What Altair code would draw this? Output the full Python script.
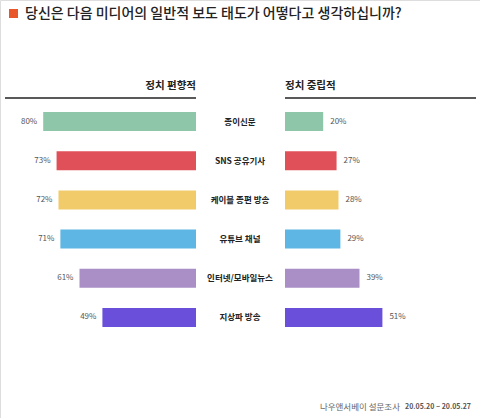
import altair as alt
import pandas as pd

# Survey: perceived reporting attitude of each media type
media = ["종이신문", "SNS 공유기사", "케이블 종편 방송", "유튜브 채널", "인터넷/모바일뉴스", "지상파 방송"]
biased = [80, 73, 72, 71, 61, 49]     # 정치 편향적 (%)
neutral = [20, 27, 28, 29, 39, 51]    # 정치 중립적 (%)
colors = ["#8ec6a9", "#df5058", "#f1ca6a", "#5db6e4", "#a98fc5", "#6a4fdb"]

title_text = "당신은 다음 미디어의 일반적 보도 태도가 어떻다고 생각하십니까?"
left_header = "정치 편향적"
right_header = "정치 중립적"
source_text = "나우앤서베이 설문조사"
date_text = "20.05.20 ~ 20.05.27"

df = pd.DataFrame({
    "media": media,
    "biased": biased,
    "neutral": neutral,
    "biased_label": [f"{v}%" for v in biased],
    "neutral_label": [f"{v}%" for v in neutral],
})

FONT = "Noto Sans CJK KR"
W, H = 480, 418

y_enc = alt.Y(
    "media:N", sort=media, axis=None,
    scale=alt.Scale(domain=media, range=[112, 327], paddingInner=0.515, paddingOuter=0),
)
color_enc = alt.Color("media:N", scale=alt.Scale(domain=media, range=colors), legend=None)

left_x = alt.Scale(domain=[0, 100], range=[196, 5])
right_x = alt.Scale(domain=[0, 100], range=[285, 476])

base = alt.Chart(df)

left_bars = base.mark_bar().encode(
    x=alt.X("biased:Q", scale=left_x, axis=None), y=y_enc, color=color_enc
)
left_labels = base.mark_text(align="right", baseline="middle", dx=-6, font=FONT,
                             fontSize=8, color="#555555").encode(
    x=alt.X("biased:Q", scale=left_x, axis=None), y=y_enc, text="biased_label:N"
)
right_bars = base.mark_bar().encode(
    x=alt.X("neutral:Q", scale=right_x, axis=None), y=y_enc, color=color_enc
)
right_labels = base.mark_text(align="left", baseline="middle", dx=7, font=FONT,
                              fontSize=8, color="#555555").encode(
    x=alt.X("neutral:Q", scale=right_x, axis=None), y=y_enc, text="neutral_label:N"
)
center_labels = base.mark_text(align="center", baseline="middle", font=FONT,
                               fontSize=8.5, fontWeight="bold", color="#222222").encode(
    x=alt.value(240), y=y_enc, text="media:N"
)

one = alt.Data(values=[{}])


def label(text, x, y, align="left", size=10, weight="normal", color="#222222"):
    return alt.Chart(one).mark_text(
        align=align, baseline="middle", font=FONT, fontSize=size,
        fontWeight=weight, color=color,
    ).encode(x=alt.value(x), y=alt.value(y), text=alt.value(text))


def rule(x1, x2, y):
    return alt.Chart(one).mark_rule(color="#222222", strokeWidth=1.5).encode(
        x=alt.value(x1), x2=alt.value(x2), y=alt.value(y)
    )


marker = alt.Chart(one).mark_rect(color="#e8562a").encode(
    x=alt.value(9), x2=alt.value(18), y=alt.value(9), y2=alt.value(18)
)

chart = alt.layer(
    marker,
    label(title_text, 25, 13.5, size=14, weight=500, color="#222222"),
    label(left_header, 196, 86, align="right", size=10.5, weight="bold"),
    label(right_header, 285, 86, align="left", size=10.5, weight="bold"),
    rule(5, 196, 98),
    rule(285, 476, 98),
    left_bars, left_labels,
    center_labels,
    right_bars, right_labels,
    label(source_text, 400, 407, align="right", size=8.5, color="#666666"),
    label(date_text, 471, 407, align="right", size=7, weight="bold", color="#555555"),
).resolve_scale(x="independent").properties(
    width=W, height=H, autosize=alt.AutoSizeParams(type="none"), padding=0,
).configure_view(stroke=None).configure(background="white")

chart.save("out.html", embed_options={"renderer": "svg", "actions": False})
